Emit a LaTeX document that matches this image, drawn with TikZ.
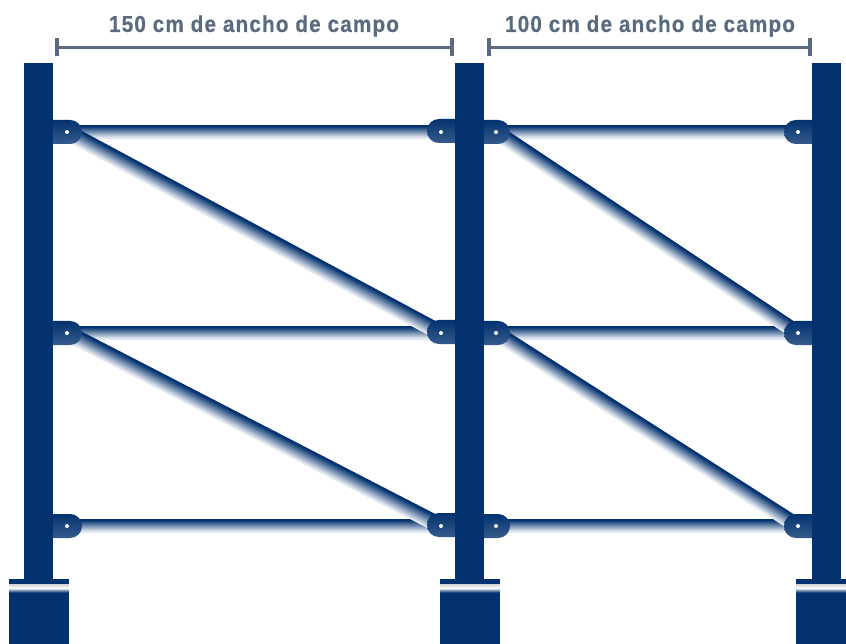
\documentclass[tikz,border=0pt]{standalone}
\usepackage{fontspec}
\setmainfont{Liberation Sans}
\newfontfamily\labelfont[LetterSpace=5,FakeStretch=0.9,BoldFeatures={FakeBold=0.6}]{Liberation Sans}
\usetikzlibrary{arrows.meta}
\definecolor{rackblue}{HTML}{03326F}
\definecolor{dimgray}{HTML}{5A6B80}
\tikzset{
    dimline/.style={draw=dimgray, line width=2.6pt, {Bar[width=18pt,line width=4pt]}-{Bar[width=18pt,line width=4pt]}},
    dimlabel/.style={text=dimgray, font=\labelfont\bfseries\fontsize{23}{26}\selectfont},
    postbar/.style={fill=rackblue},
    clipshade/.style={top color=rackblue, middle color=rackblue, bottom color=rackblue!80!white, rounded corners=11.9pt},
    pindot/.style={circle, fill=white, inner sep=0pt, minimum size=4pt},
}
% stacked strokes, dark on top and pale below
\newcommand{\tube}[3]{
    \foreach \o in {-6,...,6}{
        \pgfmathtruncatemacro{\t}{min(100,100-(\o+5)*8)}
        \draw[rackblue!\t!white, line width=#3*1.2pt, transform canvas={yshift=-\o*#3 pt}] (#1)--(#2);
    }
}
\begin{document}
\begin{tikzpicture}[x=1pt,y=-1pt]
    \useasboundingbox (0,0) rectangle (846,644);
    \foreach \n/\y in {1/132,2/333,3/526}{
        \coordinate (a\n) at (67,\y);
        \coordinate (b\n) at (441,\y);
        \coordinate (c\n) at (496,\y);
        \coordinate (d\n) at (798,\y);
    }
    % rails
    \foreach \n in {1,2,3}{
        \tube{a\n}{b\n}{1}
        \tube{c\n}{d\n}{1}
    }
    % diagonals
    \tube{a1}{b2}{1.35}
    \tube{a2}{b3}{1.35}
    \tube{c1}{d2}{1.35}
    \tube{c2}{d3}{1.35}
    % clips
    \foreach \y in {132,333,526}{
        \shade[clipshade] (40,\y-12) rectangle (82,\y+12);
        \shade[clipshade] (427,\y-13) rectangle (470,\y+11);
        \shade[clipshade] (470,\y-12) rectangle (510,\y+12);
        \shade[clipshade] (784,\y-12) rectangle (825,\y+12);
    }
    % posts and feet
    \foreach \x/\l/\r in {24/9/69,455/440/500,812/796/846}{
        \fill[postbar] (\x,63) rectangle (\x+29,580);
        \fill[postbar] (\l,579) rectangle (\r,644);
        \shade[top color=black!18, bottom color=white] (\l,584) rectangle (\r,588);
        \shade[top color=white, bottom color=rackblue] (\l,588) rectangle (\r,592.5);
    }
    \foreach \n in {1,2,3}{
        \node[pindot] (pa\n) at (a\n) {};
        \node[pindot] (pb\n) at (b\n) {};
        \node[pindot] (pc\n) at (c\n) {};
        \node[pindot] (pd\n) at (d\n) {};
    }
    % widths
    \coordinate (w1) at (55,47.5);
    \coordinate (w2) at (454,47.5);
    \coordinate (w3) at (487,47.5);
    \coordinate (w4) at (812,47.5);
    \draw[dimline] (w1)--(w2);
    \draw[dimline] (w3)--(w4);
    \node[dimlabel] (lab1) at (254,26) {150 cm de ancho de campo};
    \node[dimlabel] (lab2) at (650,26) {100 cm de ancho de campo};
\end{tikzpicture}
\end{document}
